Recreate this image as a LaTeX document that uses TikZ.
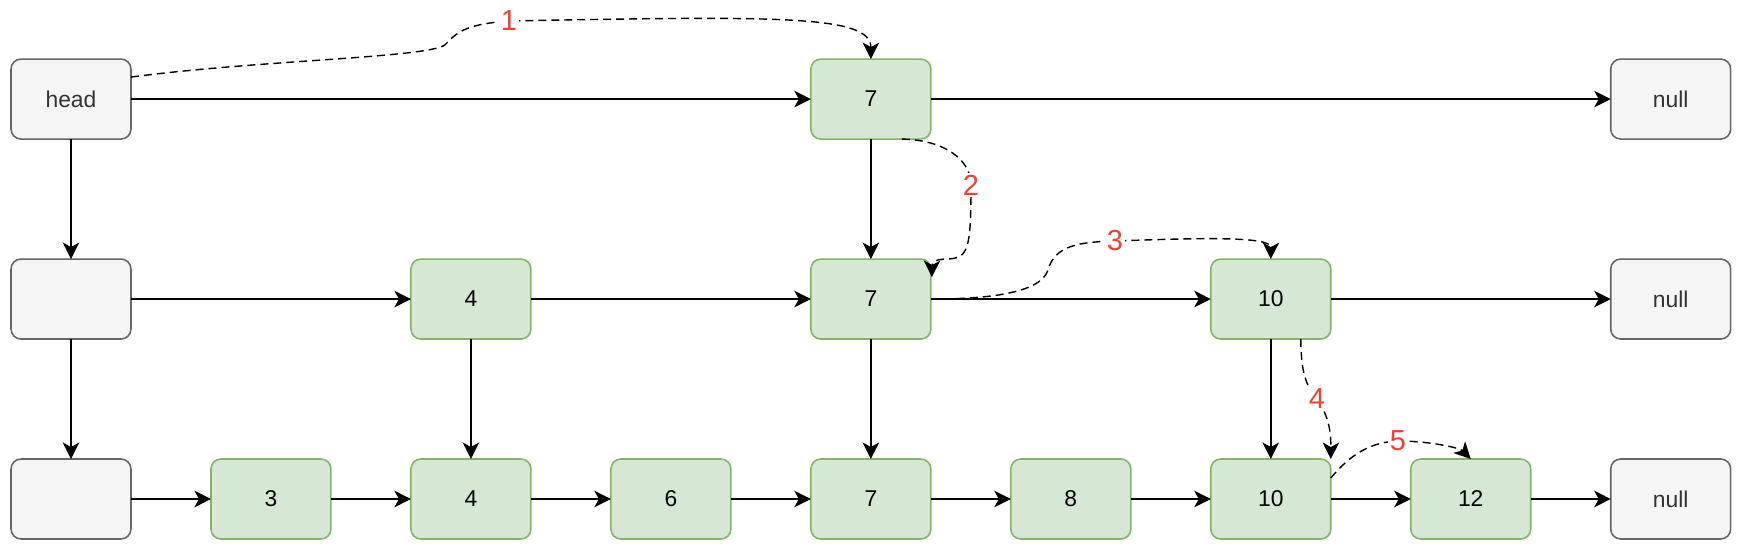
\documentclass[tikz,border=0pt]{standalone}
\usepackage{fontspec}
\setmainfont{Liberation Sans}
\usetikzlibrary{calc,arrows.meta,positioning}
\definecolor{greyfill}{HTML}{F5F5F5}
\definecolor{greyline}{HTML}{666666}
\definecolor{greenfill}{HTML}{D5E8D4}
\definecolor{greenline}{HTML}{82B366}
\definecolor{stepred}{HTML}{EA4335}
\begin{document}
\begin{tikzpicture}[x=0.02cm,y=-0.02cm,node distance=2.4cm and 1.6cm,
  box/.style={draw,rounded corners=0.2cm,minimum width=2.4cm,minimum height=1.6cm,
    inner sep=0pt,outer sep=0pt,line width=0.9pt,font=\fontsize{13}{15}\selectfont},
  sentinel/.style={box,fill=greyfill,draw=greyline,text=black!80},
  item/.style={box,fill=greenfill,draw=greenline},
  link/.style={-{Stealth[length=0.33cm,width=0.33cm,inset=0.09cm]},line width=1pt},
  hop/.style={link,line width=0.8pt,dash pattern=on 0.16cm off 0.1cm},
  lbl/.style={text=stepred,fill=white,inner sep=1pt,font=\fontsize{16.5}{19}\selectfont}]
\useasboundingbox (0,0) rectangle (1740,546);
% bottom level
\node[sentinel] (b0) at (71,499) {};
\node[item] (b1) [right=of b0] {3};
\node[item] (b2) [right=of b1] {4};
\node[item] (b3) [right=of b2] {6};
\node[item] (b4) [right=of b3] {7};
\node[item] (b5) [right=of b4] {8};
\node[item] (b6) [right=of b5] {10};
\node[item] (b7) [right=of b6] {12};
\node[sentinel] (b8) [right=of b7] {null};
% middle level
\node[sentinel] (m0) [above=of b0] {};
\node[item] (m2) [above=of b2] {4};
\node[item] (m4) [above=of b4] {7};
\node[item] (m6) [above=of b6] {10};
\node[sentinel] (m8) [above=of b8] {null};
% top level
\node[sentinel] (t0) [above=of m0] {head};
\node[item] (t4) [above=of m4] {7};
\node[sentinel] (t8) [above=of m8] {null};
\draw[link] (t0) -- (t4);
\draw[link] (t4) -- (t8);
\draw[link] (m0) -- (m2);
\draw[link] (m2) -- (m4);
\draw[link] (m4) -- (m6);
\draw[link] (m6) -- (m8);
\draw[link] (b0) -- (b1);
\draw[link] (b1) -- (b2);
\draw[link] (b2) -- (b3);
\draw[link] (b3) -- (b4);
\draw[link] (b4) -- (b5);
\draw[link] (b5) -- (b6);
\draw[link] (b6) -- (b7);
\draw[link] (b7) -- (b8);
\draw[link] (t0) -- (m0);
\draw[link] (m0) -- (b0);
\draw[link] (t4) -- (m4);
\draw[link] (m4) -- (b4);
\draw[link] (m2) -- (b2);
\draw[link] (m6) -- (b6);
% search path
\draw[hop] ($(t0.east)+(0,-22)$) .. controls (260,60) and (425,58) .. (445,45)
  .. controls (458,30) and (470,24) .. (509,21) node[lbl] {1}
  .. controls (780,16) and (871,15) .. (t4.north);
\draw[hop] ($(t4.south)+(31,0)$) .. controls (945,140) and (971,160) .. (971,185) node[lbl] {2}
  .. controls (971,250) and (968,258) .. (948,259)
  .. controls (936,259) and (932,262) .. ($(m4.north east)+(1,18)$);
\draw[hop] (m4.east) .. controls (980,299) and (1040,295) .. (1048,270)
  .. controls (1055,245) and (1080,242) .. (1115,241) node[lbl] {3}
  .. controls (1200,238) and (1271,236) .. (m6.north);
\draw[hop] ($(m6.south)+(30,0)$) .. controls (1301,370) and (1305,385) .. (1317,399) node[lbl] {4}
  .. controls (1328,415) and (1331,430) .. (b6.north east);
\draw[hop] ($(b6.east)+(0,-21)$) .. controls (1350,455) and (1370,442) .. (1398,441) node[lbl] {5}
  .. controls (1430,441) and (1460,448) .. (b7.north);
\end{tikzpicture}
\end{document}
